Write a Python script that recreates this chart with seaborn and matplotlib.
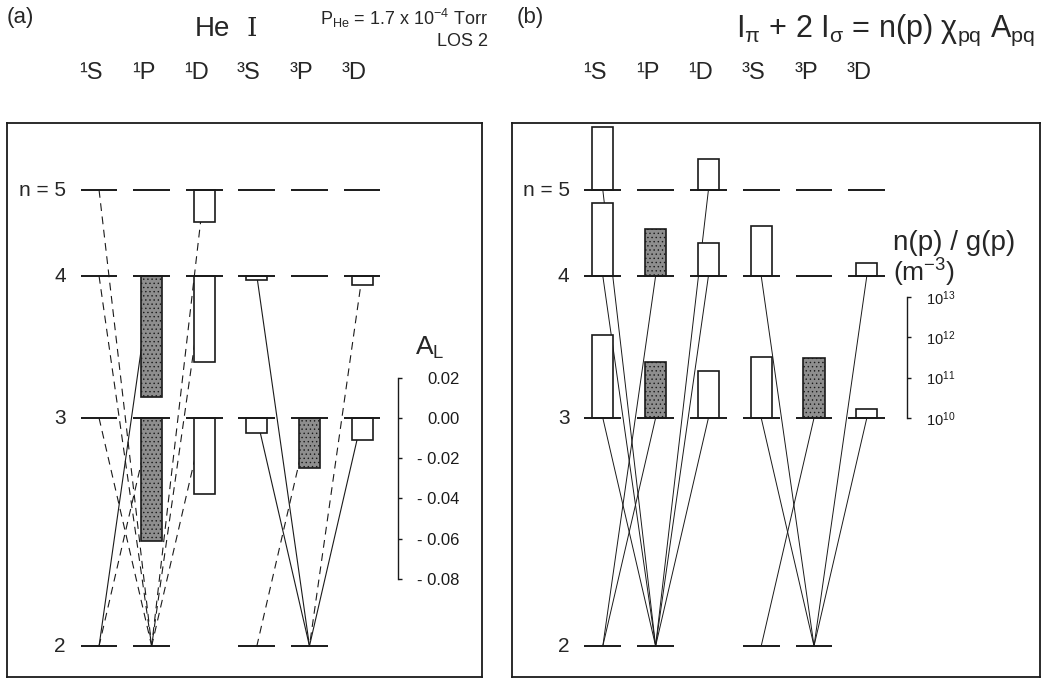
import numpy as np
import pandas as pd
import seaborn as sns
import matplotlib.pyplot as plt

# termos (colunas) e níveis n
termos = ['¹S', '¹P', '¹D', '³S', '³P', '³D']
niveis_n = [5, 4, 3, 2]
altura_nivel = [456, 370, 228, 0]      # posição esquemática dos níveis (n=2 em zero)
termos_n2 = ['¹S', '¹P', '³S', '³P']   # termos que têm nível n = 2
termos_escuros = ['¹P', '³P']

# (a) A_L por termo, para n = 5, 4, 3 (nan = sem barra)
al_n5 = [np.nan, np.nan, -0.016, np.nan, np.nan, np.nan]
al_n4 = [np.nan, -0.060, -0.043, -0.002, np.nan, -0.0045]
al_n3 = [np.nan, -0.061, -0.038, -0.0075, -0.025, -0.011]

# (b) n(p)/g(p) em m^-3, para n = 5, 4, 3
ng_n5 = [3.6e11, np.nan, 5.9e10, np.nan, np.nan, np.nan]
ng_n4 = [6.5e11, 1.5e11, 6.6e10, 1.7e11, np.nan, 2.1e10]
ng_n3 = [1.15e12, 2.5e11, 1.5e11, 3.2e11, 3.0e11, 1.7e10]

# transições: termo superior, n superior, termo inferior (n = 2)
trans_sup = ['¹S', '¹S', '¹S', '¹P', '¹P', '¹D', '¹D', '¹D', '³S', '³S', '³P', '³D', '³D']
trans_n = [5, 4, 3, 4, 3, 5, 4, 3, 4, 3, 3, 4, 3]
trans_inf = ['¹P', '¹P', '¹P', '¹S', '¹S', '¹P', '¹P', '¹P', '³P', '³P', '³S', '³P', '³P']
estilo_a = ['trac', 'trac', 'trac', 'cheia', 'trac', 'trac', 'trac', 'trac',
            'cheia', 'cheia', 'trac', 'trac', 'cheia']

# escalas das barras
AL_ESCALA = 2010.0     # unidades de y por unidade de A_L
DECADA = 40.3          # unidades de y por década de n(p)/g(p)
LOG_BASE = 10

sns.set_theme(style='white')
plt.rcParams['font.family'] = ['Liberation Sans', 'DejaVu Sans']
plt.rcParams['mathtext.default'] = 'regular'
plt.rcParams['hatch.linewidth'] = 0.5

W, H = 1044, 678
fig = plt.figure(figsize=(W / 100, H / 100), dpi=100)
ax_a = fig.add_axes([7 / W, 1 / H, 475 / W, 554 / H])
ax_b = fig.add_axes([512 / W, 1 / H, 528 / W, 554 / H])

altura = dict(zip(niveis_n, altura_nivel))
meia = 0.35
larg_barra = 0.4


def linhas_df(estilos):
    regs = []
    for i, (s, n, inf, e) in enumerate(zip(trans_sup, trans_n, trans_inf, estilos)):
        regs.append({'id': i, 'x': termos.index(s), 'y': altura[n], 'estilo': e})
        regs.append({'id': i, 'x': termos.index(inf), 'y': altura[2], 'estilo': e})
    return pd.DataFrame(regs)


def base(ax, xlim):
    # níveis de energia
    for n in niveis_n:
        for i, t in enumerate(termos):
            if n == 2 and t not in termos_n2:
                continue
            ax.hlines(altura[n], i - meia, i + meia, color='k', lw=1.4, zorder=4)
        rot = 'n = 5' if n == 5 else str(n)
        ax.text(-meia - 0.28, altura[n], rot, ha='right', va='center', fontsize=15)
    for i, t in enumerate(termos):
        ax.text(i - 0.15, 1.09, t, transform=ax.get_xaxis_transform(), ha='center',
                va='center', fontsize=17, clip_on=False)
    ax.set_xlim(*xlim)
    ax.set_ylim(-31, 523)
    ax.set_xticks([])
    ax.set_yticks([])
    ax.set_xlabel('')
    ax.set_ylabel('')
    for sp in ax.spines.values():
        sp.set_visible(True)
        sp.set_color('k')
        sp.set_linewidth(1.3)


def barras(ax, valores, n, conv):
    for i, t in enumerate(termos):
        v = valores[i]
        if np.isnan(v):
            continue
        escuro = t in termos_escuros
        ax.bar(i, conv(v), bottom=altura[n], width=larg_barra,
               color='#8e8e8e' if escuro else 'white',
               hatch='....' if escuro else None,
               edgecolor='k', lw=1.2, zorder=3)


# ---------- painel (a) ----------
df_a = linhas_df(estilo_a)
sns.lineplot(data=df_a, x='x', y='y', units='id', estimator=None, style='estilo',
             dashes={'cheia': '', 'trac': (7, 5)}, color='k', lw=0.8, sort=False,
             legend=False, ax=ax_a, zorder=1)
for vals, n in zip([al_n5, al_n4, al_n3], [5, 4, 3]):
    barras(ax_a, vals, n, lambda v: v * AL_ESCALA)
base(ax_a, (-1.75, 7.28))

esc_a = ax_a.inset_axes([5.67, altura[3] - 0.08 * AL_ESCALA, 0.01, 0.10 * AL_ESCALA],
                        transform=ax_a.transData)
al_ticks = [0.02, 0.0, -0.02, -0.04, -0.06, -0.08]
esc_a.set_ylim(-0.08, 0.02)
esc_a.set_yticks(al_ticks)
esc_a.set_yticklabels(['0.02', '0.00', '- 0.02', '- 0.04', '- 0.06', '- 0.08'])
esc_a.set_xticks([])
esc_a.patch.set_visible(False)
for nome, sp in esc_a.spines.items():
    sp.set_visible(nome == 'right')
esc_a.spines['right'].set_color('k')
esc_a.spines['right'].set_linewidth(1.0)
esc_a.yaxis.tick_right()
esc_a.tick_params(axis='y', direction='out', length=3, width=1.0, pad=41.5,
                  labelsize=12, colors='k', right=True, left=False)
plt.setp(esc_a.get_yticklabels(), ha='right')
ax_a.text(6.29, 298, 'A$_L$', ha='center', va='center', fontsize=19)

# ---------- painel (b) ----------
df_b = linhas_df(['cheia'] * len(trans_sup))
sns.lineplot(data=df_b, x='x', y='y', units='id', estimator=None, color='k', lw=0.7,
             sort=False, legend=False, ax=ax_b, zorder=1)
for vals, n in zip([ng_n5, ng_n4, ng_n3], [5, 4, 3]):
    barras(ax_b, vals, n, lambda v: (np.log10(v) - LOG_BASE) * DECADA)
base(ax_b, (-1.72, 8.28))

esc_b = ax_b.inset_axes([5.76, altura[3], 0.01, 3 * DECADA], transform=ax_b.transData)
esc_b.set_yscale('log')
esc_b.set_ylim(1e10, 1e13)
esc_b.set_yticks([1e10, 1e11, 1e12, 1e13])
esc_b.minorticks_off()
esc_b.set_xticks([])
esc_b.patch.set_visible(False)
for nome, sp in esc_b.spines.items():
    sp.set_visible(nome == 'right')
esc_b.spines['right'].set_color('k')
esc_b.spines['right'].set_linewidth(1.0)
esc_b.yaxis.tick_right()
esc_b.tick_params(axis='y', direction='out', length=3, width=1.0, pad=10,
                  labelsize=10.5, colors='k', right=True, left=False)
ax_b.text(5.49, 403, 'n(p) / g(p)', ha='left', va='center', fontsize=20)
ax_b.text(5.49, 373, '(m$^{-3}$)', ha='left', va='center', fontsize=19)

# ---------- textos de cabeçalho ----------
fig.text(7 / W, 1 - 18 / H, '(a)', ha='left', va='center', fontsize=16)
fig.text(517 / W, 1 - 18 / H, '(b)', ha='left', va='center', fontsize=16)
fig.text(195 / W, 1 - 29 / H, 'He', ha='left', va='center', fontsize=20)
fig.text(252 / W, 1 - 29 / H, 'I', ha='center', va='center', fontsize=19,
         family='DejaVu Serif')
fig.text(488 / W, 1 - 18 / H, 'P$_{He}$ = 1.7 x 10$^{-4}$ Torr', ha='right',
         va='center', fontsize=13)
fig.text(488 / W, 1 - 42 / H, 'LOS 2', ha='right', va='center', fontsize=13)
fig.text(1035 / W, 1 - 30 / H, 'I$_π$ + 2 I$_σ$ = n(p) χ$_{pq}$ A$_{pq}$', ha='right',
         va='center', fontsize=22)

fig.savefig('out.png', dpi=100)
